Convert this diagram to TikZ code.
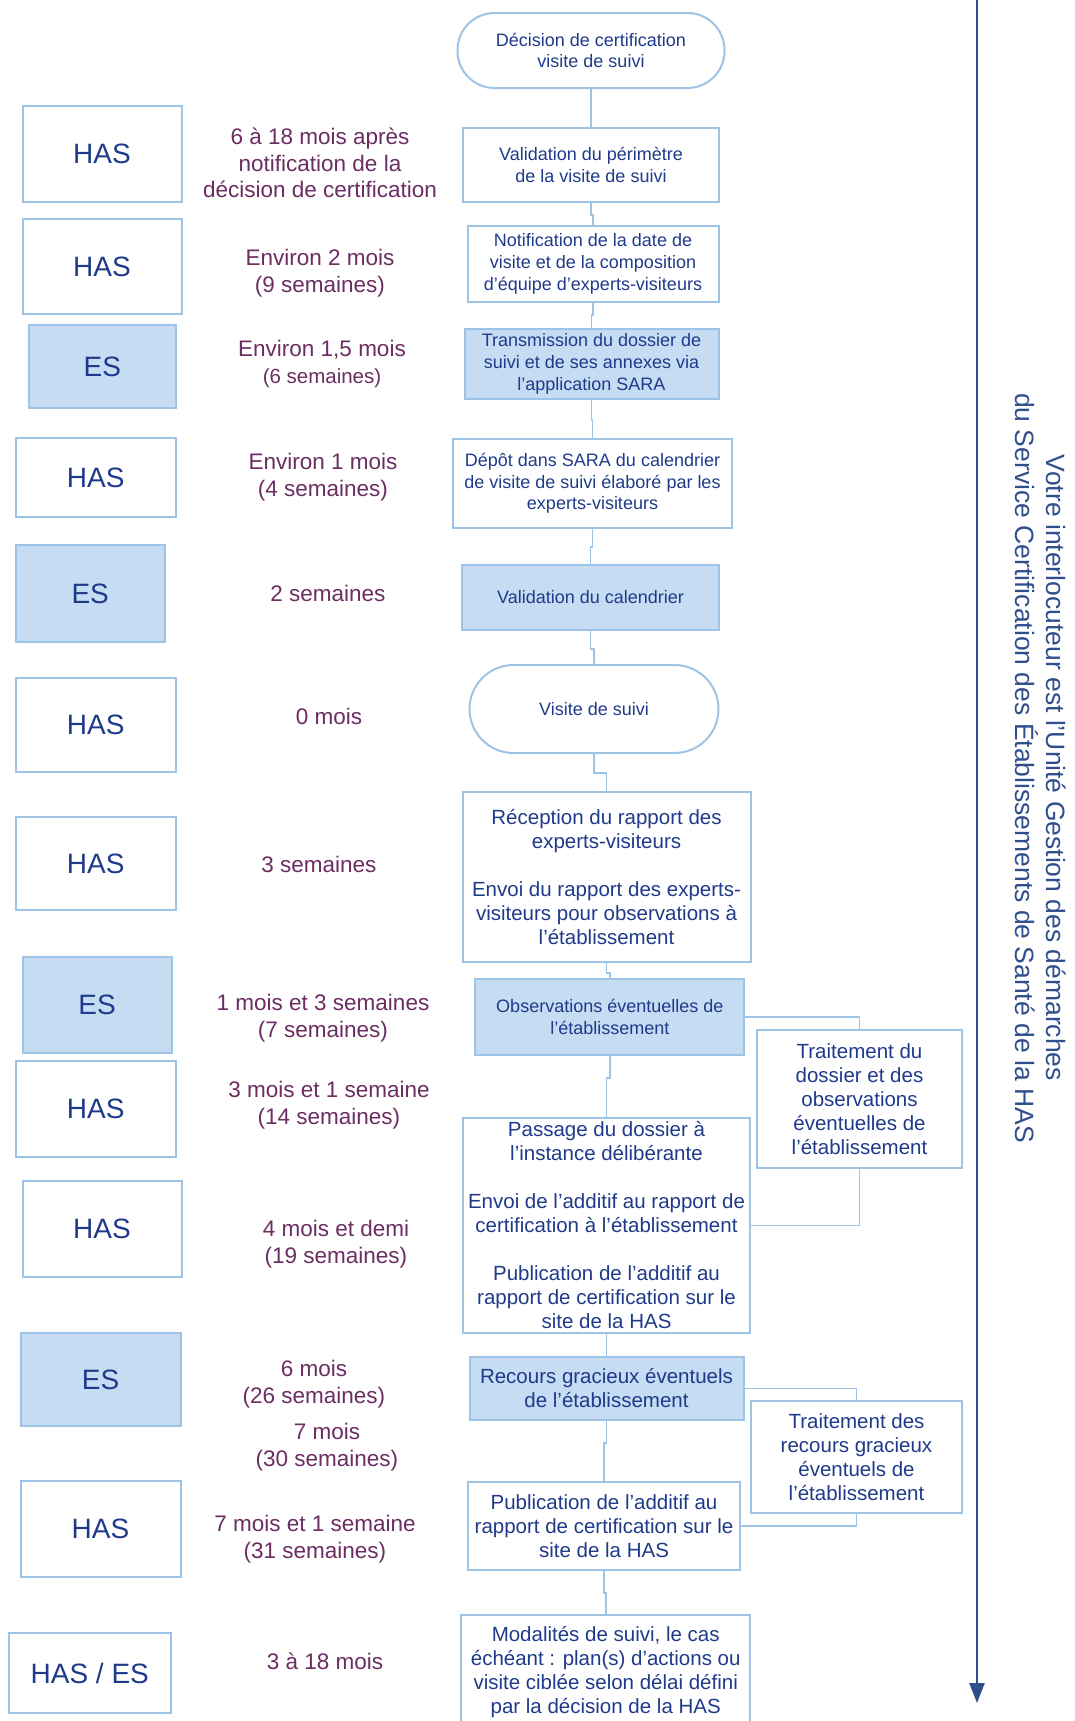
\documentclass[tikz,border=0pt]{standalone}
\usepackage{fontspec}
\setmainfont{Liberation Sans}
\usetikzlibrary{arrows.meta}
\definecolor{bordc}{HTML}{9DC3E6}
\definecolor{fillc}{HTML}{C5DCF2}
\definecolor{navy}{HTML}{1F3A8A}
\definecolor{timec}{HTML}{6B2D62}
\definecolor{arrc}{HTML}{2F4E8C}
\begin{document}
\begin{tikzpicture}[x=1pt,y=-1pt,
  sz/.style 2 args={minimum width=#1pt, minimum height=#2pt},
  agent/.style={draw=bordc, line width=2pt, text=navy, inner sep=0pt, font=\fontsize{28}{32}\selectfont},
  esagent/.style={agent, fill=fillc},
  timel/.style={text=timec, align=center, inner sep=0pt, font=\fontsize{22.5}{26.5}\selectfont},
  proc/.style={draw=bordc, line width=2pt, text=navy, align=center, inner sep=0pt, font=\fontsize{18}{21.7}\selectfont},
  procl/.style={proc, font=\fontsize{20.5}{24}\selectfont},
  procf/.style={proc, fill=fillc},
  procfl/.style={procl, fill=fillc},
  term/.style={proc, rounded corners=#1},
  link/.style={draw=bordc, line width=1.6pt},
  sidetext/.style={text=arrc, align=center, inner sep=0pt, font=\fontsize{26.5}{31}\selectfont}
]
\useasboundingbox (0,0) rectangle (1075,1721);

% agents
\node[agent, sz={159}{96}] (a1) at (102,154) {HAS};
\node[agent, sz={159}{95}] (a2) at (102,266.5) {HAS};
\node[esagent, sz={147}{83}] (a3) at (102.4,366.5) {ES};
\node[agent, sz={160}{79}] (a4) at (95.7,477.5) {HAS};
\node[esagent, sz={149}{97}] (a5) at (90.2,593.5) {ES};
\node[agent, sz={160}{94}] (a6) at (95.7,725) {HAS};
\node[agent, sz={160}{93}] (a7) at (95.7,863.5) {HAS};
\node[esagent, sz={149}{96}] (a8) at (97,1005) {ES};
\node[agent, sz={160}{96}] (a9) at (95.7,1109) {HAS};
\node[agent, sz={159}{96}] (a10) at (102,1229) {HAS};
\node[esagent, sz={160}{93}] (a11) at (100.5,1379.5) {ES};
\node[agent, sz={160}{96}] (a12) at (100.5,1529) {HAS};
\node[agent, sz={162}{80}] (a13) at (89.8,1673) {HAS / ES};

% time labels
\node[timel] (t1) at (320,163) {6 à 18 mois après\\notification de la\\décision de certification};
\node[timel] (t2) at (320,273) {Environ 2 mois\\(9 semaines)};
\node[timel] (t3) at (322,364) {Environ 1,5 mois\\{\fontsize{20.5}{24}\selectfont (6 semaines)}};
\node[timel] (t4) at (323,477) {Environ 1 mois\\(4 semaines)};
\node[timel] (t5) at (328,593) {2 semaines};
\node[timel] (t6) at (329,716) {0 mois};
\node[timel] (t7) at (319,864) {3 semaines};
\node[timel] (t8) at (323,1018) {1 mois et 3 semaines\\(7 semaines)};
\node[timel] (t9) at (329,1105) {3 mois et 1 semaine\\(14 semaines)};
\node[timel] (t10) at (336,1244) {4 mois et demi\\(19 semaines)};
\node[timel] (t11) at (314,1384) {6 mois\\(26 semaines)};
\node[timel] (t12) at (327,1447) {7 mois\\(30 semaines)};
\node[timel] (t13) at (315,1539) {7 mois et 1 semaine\\(31 semaines)};
\node[timel] (t14) at (325,1661) {3 à 18 mois};

% process column
\node[term=37pt, sz={267}{75}] (T1) at (591,50.5) {Décision de certification\\visite de suivi};
\node[proc, sz={256}{74}] (B1) at (591,165) {Validation du périmètre\\de la visite de suivi};
\node[proc, sz={251}{76}] (B2) at (593,264) {Notification de la date de\\visite et de la composition\\d'équipe d'experts-visiteurs};
\node[procf, sz={254}{70}] (B3) at (591.5,364) {Transmission du dossier de\\suivi et de ses annexes via\\l'application SARA};
\node[proc, sz={279}{89}] (B4) at (592.5,483.5) {Dépôt dans SARA du calendrier\\de visite de suivi élaboré par les\\experts-visiteurs};
\node[procf, sz={257}{65}] (B5) at (590.5,597.5) {Validation du calendrier};
\node[term=44pt, sz={249}{88}] (T2) at (594,709) {Visite de suivi};
\node[procl, sz={288}{170}] (B6) at (606.5,877) {Réception du rapport des\\experts-visiteurs\\[24pt]Envoi du rapport des experts-\\visiteurs pour observations à\\l'établissement};
\node[procf, sz={269}{76}] (B7) at (609.8,1017) {Observations éventuelles de\\l'établissement};
\node[procl, sz={205}{138}] (S1) at (859.5,1099) {Traitement du\\dossier et des\\observations\\éventuelles de\\l'établissement};
\node[procl, sz={287}{215}] (B8) at (606.5,1225.5) {Passage du dossier à\\l'instance délibérante\\[24pt]Envoi de l'additif au rapport de\\certification à l'établissement\\[24pt]Publication de l'additif au\\rapport de certification sur le\\site de la HAS};
\node[procfl, sz={274}{63}] (B9) at (606.5,1388.5) {Recours gracieux éventuels\\de l'établissement};
\node[procl, sz={211}{112}] (S2) at (856.5,1457) {Traitement des\\recours gracieux\\éventuels de\\l'établissement};
\node[procl, sz={272}{88}] (B10) at (604,1526) {Publication de l'additif au\\rapport de certification sur le\\site de la HAS};
\node[procl, sz={289}{115}] (B11) at (605.7,1672.5) {Modalités de suivi, le cas\\échéant : plan(s) d'actions ou\\visite ciblée selon délai défini\\par la décision de la HAS};

% connectors
\draw[link] (T1.south) -- (B1.north);
\draw[link] (B1.south) -- ++(0,12) -| (B2.north);
\draw[link] (B2.south) -- ++(0,12) -| (B3.north);
\draw[link] (B3.south) -- ++(0,20) -| (B4.north);
\draw[link] (B4.south) -- ++(0,18) -| (B5.north);
\draw[link] (B5.south) -- ++(0,18) -| (T2.north);
\draw[link] (T2.south) -- ++(0,19) -| (B6.north);
\draw[link] (B6.south) -- ++(0,10) -| (B7.north);
\draw[link] (B7.south) -- ++(0,22) -| (B8.north);
\draw[link] (B8.south) -- (B9.north);
\draw[link] (B9.south) -- ++(0,22) -| (B10.north);
\draw[link] (B10.south) -- ++(0,22) -| (B11.north);
\draw[link] (B7.east) -| (S1.north);
\draw[link] (S1.south) |- (B8.east);
\draw[link] (B9.east) -| (S2.north);
\draw[link] (S2.south) |- (B10.east);

% timeline arrow and side text
\coordinate (arrtop) at (977,-5);
\coordinate (arrbot) at (977,1703);
\draw[draw=arrc, line width=2.5pt, -{Triangle[width=15pt,length=20pt]}] (arrtop) -- (arrbot);
\node[sidetext, rotate=-90] (side) at (1041,768) {Votre interlocuteur est l'Unité Gestion des démarches\\du Service Certification des Établissements de Santé de la HAS};
\end{tikzpicture}
\end{document}
